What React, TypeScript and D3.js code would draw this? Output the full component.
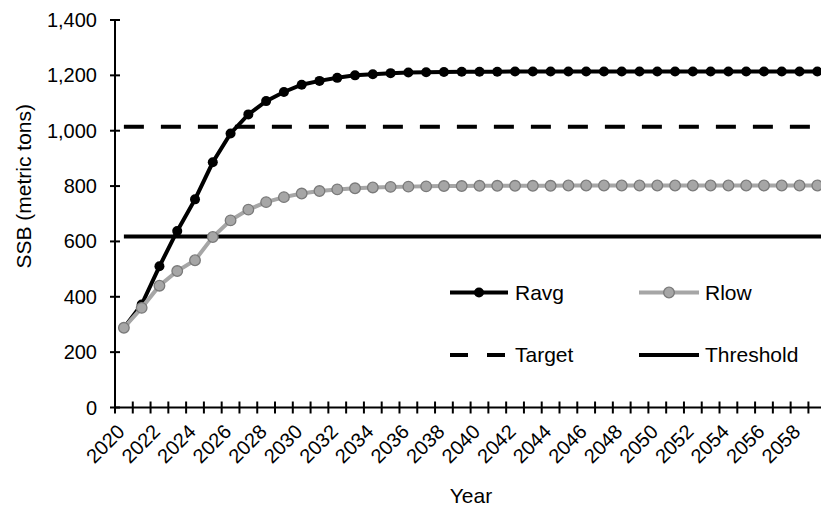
import React from "react";
import * as d3 from "d3";

const years: number[] = [];
for (let y = 2020; y <= 2059; y++) years.push(y);

const ravg = [287, 372, 510, 638, 752, 886, 990, 1059, 1107, 1140, 1166, 1180, 1191, 1200, 1204, 1208, 1210, 1211, 1212, 1213,
  1213, 1213, 1214, 1214, 1214, 1214, 1214, 1214, 1214, 1214, 1214, 1214, 1214, 1214, 1214, 1214, 1214, 1214, 1214, 1214];
const rlow = [288, 360, 440, 493, 532, 616, 676, 715, 742, 760, 773, 782, 788, 792, 795, 797, 798, 799, 800, 800,
  801, 801, 801, 801, 801, 802, 802, 802, 802, 802, 802, 802, 802, 802, 802, 802, 802, 802, 802, 802];
const targetValue = 1014;
const thresholdValue = 618;
const yTicks = [0, 200, 400, 600, 800, 1000, 1200, 1400];

const W = 821, H = 508;
const X0 = 115, STEP = 17.78;
const FONT = "'Liberation Sans', Arial, sans-serif";

export default function App() {
  const x = d3.scaleBand<number>().domain(years).range([X0, X0 + years.length * STEP]);
  const cx = (yr: number) => (x(yr) as number) + x.bandwidth() / 2;
  const y = d3.scaleLinear().domain([0, 1400]).range([407.5, 20]);
  const line = d3.line<number>().x((_, i) => cx(years[i])).y((d) => y(d));
  const xFirst = cx(years[0]);
  const fmt = d3.format(",");
  const tickBounds = d3.range(years.length + 1).map((i) => X0 + i * STEP);

  return (
    <svg width={W} height={H} style={{ position: "absolute", left: 0, top: 0, background: "#fff" }} fontFamily={FONT}>
      {/* y axis */}
      <line x1={X0} x2={X0} y1={19} y2={y(0)} stroke="#000" strokeWidth={2} />
      {yTicks.map((t) => (
        <g key={t}>
          <line x1={X0 - 5} x2={X0 + 5} y1={y(t)} y2={y(t)} stroke="#000" strokeWidth={2} />
          <text x={97} y={y(t)} dy="0.35em" textAnchor="end" fontSize={20} fill="#000">{fmt(t)}</text>
        </g>
      ))}
      <text transform={`translate(31,104) rotate(-90)`} textAnchor="end" fontSize={21} fill="#000">SSB (metric tons)</text>

      {/* x axis */}
      <line x1={X0} x2={W} y1={y(0)} y2={y(0)} stroke="#000" strokeWidth={2} />
      {tickBounds.map((tx, i) => (
        <line key={i} x1={tx} x2={tx} y1={y(0) - 6} y2={y(0) + 6} stroke="#000" strokeWidth={2} />
      ))}
      {years.filter((yr) => (yr - 2020) % 2 === 0).map((yr) => (
        <text key={yr} transform={`translate(${cx(yr) + 2},433) rotate(-45)`} textAnchor="end" fontSize={20} fill="#000">{yr}</text>
      ))}
      <text x={471} y={503} textAnchor="middle" fontSize={21} fill="#000">Year</text>

      {/* reference lines */}
      <line x1={xFirst} x2={W} y1={y(targetValue)} y2={y(targetValue)} stroke="#000" strokeWidth={4} strokeDasharray="20 17" />
      <line x1={xFirst} x2={W} y1={y(thresholdValue)} y2={y(thresholdValue)} stroke="#000" strokeWidth={4} />

      {/* Ravg */}
      <path d={line(ravg) || ""} fill="none" stroke="#000" strokeWidth={4} />
      {ravg.map((v, i) => (
        <circle key={i} cx={cx(years[i])} cy={y(v)} r={5} fill="#000" />
      ))}

      {/* Rlow */}
      <path d={line(rlow) || ""} fill="none" stroke="#a6a6a6" strokeWidth={4} />
      {rlow.map((v, i) => (
        <circle key={i} cx={cx(years[i])} cy={y(v)} r={5.3} fill="#a6a6a6" stroke="#7a7a7a" strokeWidth={1.3} />
      ))}

      {/* legend */}
      <g>
        <line x1={450} x2={508} y1={292.5} y2={292.5} stroke="#000" strokeWidth={4} />
        <circle cx={479} cy={292.5} r={5} fill="#000" />
        <text x={515} y={292.5} dy="0.35em" fontSize={21} fill="#000">Ravg</text>

        <line x1={639} x2={699} y1={292.5} y2={292.5} stroke="#a6a6a6" strokeWidth={4} />
        <circle cx={669} cy={292.5} r={5.3} fill="#a6a6a6" stroke="#7a7a7a" strokeWidth={1.3} />
        <text x={705} y={292.5} dy="0.35em" fontSize={21} fill="#000">Rlow</text>

        <line x1={450} x2={508} y1={355} y2={355} stroke="#000" strokeWidth={4} strokeDasharray="18 19" />
        <text x={515} y={355} dy="0.35em" fontSize={21} fill="#000">Target</text>

        <line x1={639} x2={699} y1={355} y2={355} stroke="#000" strokeWidth={4} />
        <text x={705} y={355} dy="0.35em" fontSize={21} fill="#000">Threshold</text>
      </g>
    </svg>
  );
}
